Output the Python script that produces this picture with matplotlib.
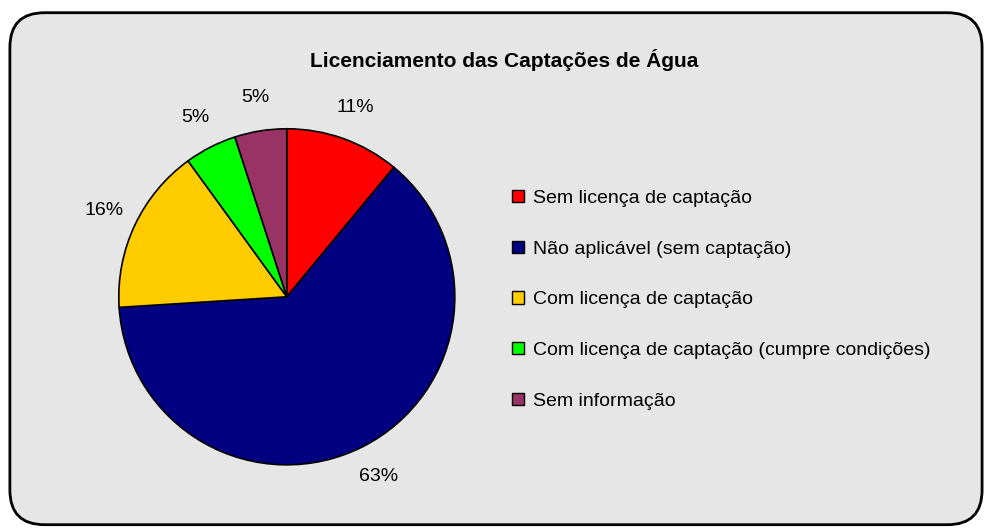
import matplotlib
matplotlib.use("Agg")
import matplotlib.pyplot as plt
from matplotlib.patches import FancyBboxPatch

plt.rcParams['font.family'] = ['Liberation Sans', 'DejaVu Sans']

# Data
categories = ["Sem licença de captação",
              "Não aplicável (sem captação)",
              "Com licença de captação",
              "Com licença de captação (cumpre condições)",
              "Sem informação"]
percentages = [11, 63, 16, 5, 5]
colors = ["#ff0000", "#000080", "#ffcc00", "#00ff00", "#993366"]
title = "Licenciamento das Captações de Água"

fig = plt.figure(figsize=(9.89, 5.30), dpi=100)
fig.patch.set_facecolor("white")

# rounded chart frame with light marble-like fill
frame = FancyBboxPatch((0.010, 0.010), 0.983, 0.966,
                       boxstyle="round,pad=0,rounding_size=0.035",
                       transform=fig.transFigure, facecolor="#e6e6e6",
                       edgecolor="black", linewidth=2, zorder=-5,
                       mutation_aspect=989 / 530)
fig.patches.append(frame)

ax = fig.add_axes([0.120, 0.123, 0.340, 0.634])
ax.patch.set_visible(False)
wedges, texts, autotexts = ax.pie(
    percentages, colors=colors, startangle=90, counterclock=False,
    autopct="%d%%", pctdistance=1.2,
    wedgeprops=dict(edgecolor="black", linewidth=1.2),
    textprops=dict(fontsize=14, color="black"))
ax.set_xlim(-1, 1)
ax.set_ylim(-1, 1)
ax.set_aspect("equal")

fig.text(0.51, 0.887, title, ha="center", va="center",
         fontsize=15, fontweight="bold")

leg = fig.legend(wedges, categories, loc="upper left",
                 bbox_to_anchor=(0.508, 0.660), frameon=False,
                 fontsize=14, handlelength=0.6, handleheight=0.6,
                 handletextpad=0.45, labelspacing=1.73, borderpad=0)
for h in leg.legend_handles:
    h.set_linewidth(1)

fig.savefig("out.png", dpi=100)
